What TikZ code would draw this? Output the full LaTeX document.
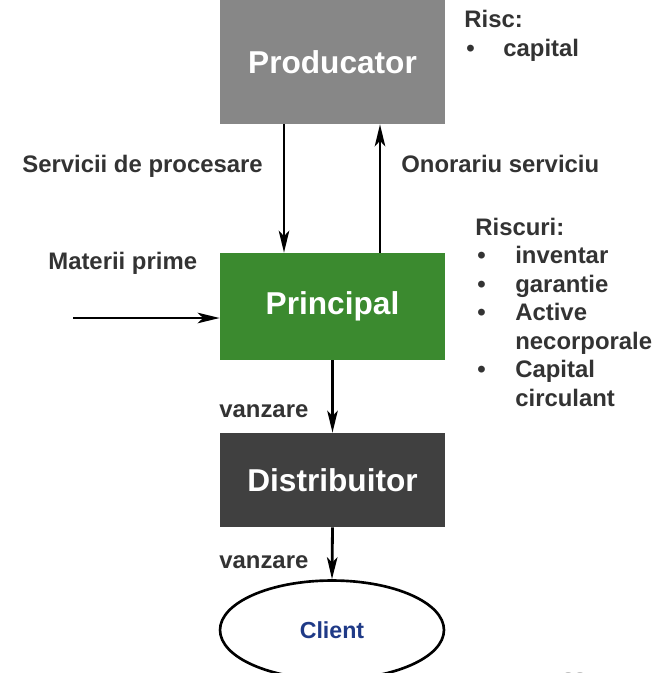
\documentclass[tikz,border=0pt]{standalone}
\usepackage{fontspec}
\setmainfont{Liberation Sans}
\usetikzlibrary{arrows.meta,shapes.geometric}
\definecolor{prodgray}{HTML}{878787}
\definecolor{princgreen}{HTML}{3B8A2F}
\definecolor{distgray}{HTML}{404040}
\definecolor{labelgray}{HTML}{333333}
\definecolor{clientblue}{HTML}{1F3A87}

\begin{document}
\begin{tikzpicture}[x=0.02cm, y=-0.02cm,
  box/.style={rectangle, fill=#1, text=white, font=\bfseries\fontsize{18}{21}\selectfont, minimum width=4.5cm, inner sep=0pt},
  lbl/.style={anchor=west, text=labelgray, font=\bfseries\fontsize{13.6}{16}\selectfont, inner sep=0pt, text height=10pt, text depth=3pt},
  flow/.style={line width=1.6pt, -{Stealth[length=0.44cm, width=0.21cm, inset=0.11cm]}}]
  \useasboundingbox (0,0) rectangle (659,673);
  \node[box=prodgray, minimum height=2.48cm] (prod) at (332.5,62) {Producator};
  \node[box=princgreen, minimum height=2.14cm] (princ) at (332.5,306.5) {Principal};
  \node[box=distgray, minimum height=1.88cm] (distrib) at (332.5,480) {Distribuitor};
  \node[ellipse, draw, line width=1.5pt, minimum width=4.48cm, minimum height=1.98cm, text=clientblue, font=\bfseries\fontsize{13.2}{15}\selectfont] (client) at (332,630) {Client};

  \node[lbl] (risc) at (464,21) {Risc:};
  \node[lbl] (b1) at (466,50) {•};
  \node[lbl] (capital) at (503,50) {capital};

  \node[lbl] (servicii) at (22,166) {Servicii de procesare};
  \node[lbl] (onorariu) at (401,166) {Onorariu serviciu};

  \node[lbl] (riscuri) at (475,229) {Riscuri:};
  \foreach \y/\t [count=\i] in {257/inventar, 286/garantie, 314/Active, 371/Capital}{
    \node[lbl] (bul\i) at (477,\y) {•};
    \node[lbl] (r\i) at (515,\y) {\t};
  }
  \node[lbl] (r5) at (515,343) {necorporale};
  \node[lbl] (r6) at (515,400) {circulant};

  \node[lbl] (materii) at (48,263) {Materii prime};
  \node[lbl] (vz1) at (219,411) {vanzare};
  \node[lbl] (vz2) at (219,562) {vanzare};
  \node[anchor=west, text=gray!70, font=\fontsize{12}{14}\selectfont, inner sep=0pt] (pag) at (562,680) {22};

  \coordinate (mp) at (73,318);
  \draw[flow] (prod.south -| 284,0) -- (princ.north -| 284,0);
  \draw[flow] (princ.north -| 380,0) -- (prod.south -| 380,0);
  \draw[flow] (mp) -- (mp -| princ.west);
  \draw[flow] (princ.south) -- (distrib.north);
  \draw[flow] (distrib.south) -- (client.north);
\end{tikzpicture}
\end{document}
